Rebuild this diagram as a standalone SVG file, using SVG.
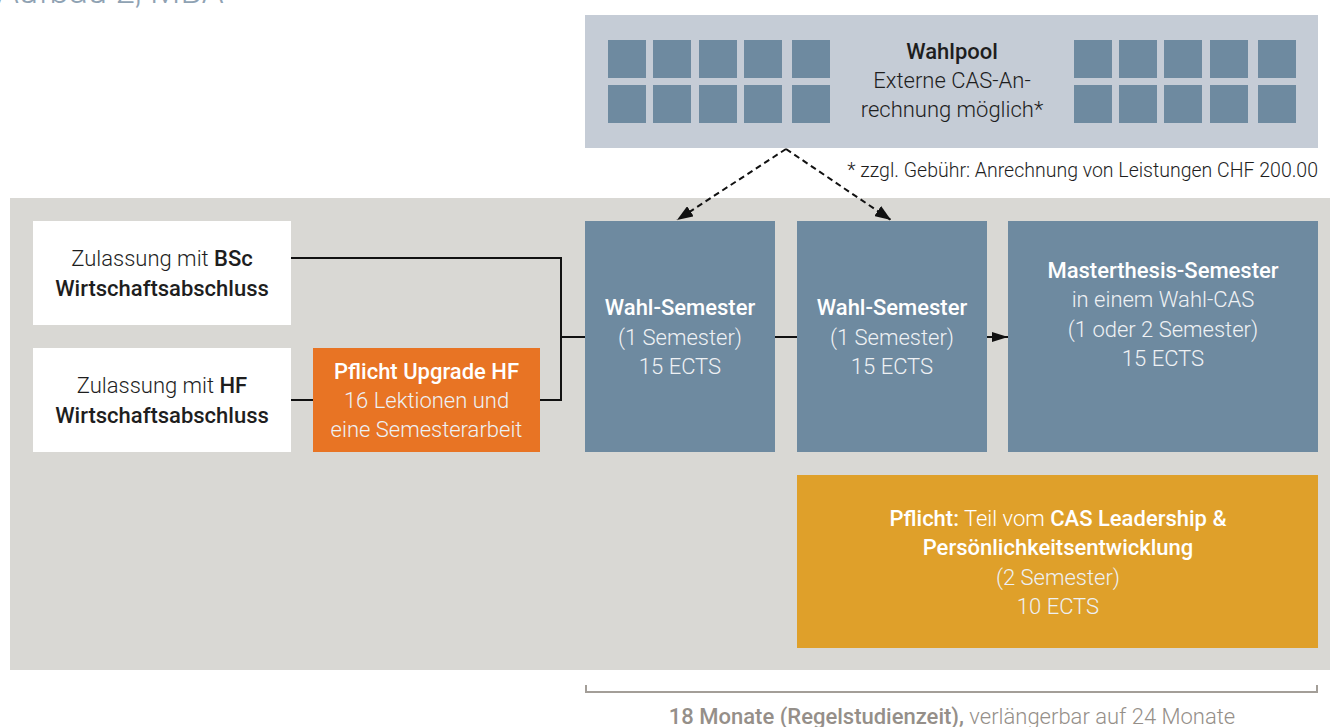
<svg xmlns="http://www.w3.org/2000/svg" width="1330" height="727" viewBox="0 0 1330 727">
<defs>
<style>
text{font-family:Roboto,"Liberation Sans",sans-serif;font-size:22px;text-anchor:middle}
.l{font-weight:300}
.b{font-weight:500}
.dk{fill:#1e1e1e}
.wh{fill:#ffffff}
.lt{fill:#eef1f4}
.sq{fill:#6e8aa0}
.blue{fill:#6e8aa0}
.ln{fill:none;stroke:#111;stroke-width:2}
.dash{fill:none;stroke:#111;stroke-width:2;stroke-dasharray:6 4}
</style>
<marker id="ah" viewBox="0 0 16 10" refX="16" refY="5" markerWidth="16" markerHeight="10" markerUnits="userSpaceOnUse" orient="auto">
<path d="M0,0 L16,5 L0,10 z" fill="#111"/>
</marker>
<marker id="ahd" viewBox="0 0 16 12" refX="16" refY="6" markerWidth="16" markerHeight="12" markerUnits="userSpaceOnUse" orient="auto">
<path d="M0,0 L16,6 L0,12 z" fill="#111"/>
</marker>
</defs>
<rect width="1330" height="727" fill="#ffffff"/>
<text x="-3" y="3" style="font-size:35px;text-anchor:start;fill:#8fa2b3" class="l">Aufbau 2, MBA</text>

<rect x="10" y="198" width="1320" height="472" fill="#d9d8d4"/>

<g id="wahlpool">
<rect x="585" y="15" width="733" height="133" fill="#c5ccd6"/>
<rect class="sq" x="608" y="40" width="38" height="38"/><rect class="sq" x="653" y="40" width="38" height="38"/><rect class="sq" x="699" y="40" width="38" height="38"/><rect class="sq" x="744" y="40" width="38" height="38"/><rect class="sq" x="792" y="40" width="38" height="38"/>
<rect class="sq" x="608" y="85" width="38" height="38"/><rect class="sq" x="653" y="85" width="38" height="38"/><rect class="sq" x="699" y="85" width="38" height="38"/><rect class="sq" x="744" y="85" width="38" height="38"/><rect class="sq" x="792" y="85" width="38" height="38"/>
<rect class="sq" x="1074" y="40" width="38" height="38"/><rect class="sq" x="1119" y="40" width="38" height="38"/><rect class="sq" x="1164" y="40" width="38" height="38"/><rect class="sq" x="1210" y="40" width="38" height="38"/><rect class="sq" x="1258" y="40" width="38" height="38"/>
<rect class="sq" x="1074" y="85" width="38" height="38"/><rect class="sq" x="1119" y="85" width="38" height="38"/><rect class="sq" x="1164" y="85" width="38" height="38"/><rect class="sq" x="1210" y="85" width="38" height="38"/><rect class="sq" x="1258" y="85" width="38" height="38"/>
<text x="952" y="59" class="b dk">Wahlpool</text>
<text x="952" y="88" class="l dk">Externe CAS-An-</text>
<text x="952" y="117" class="l dk">rechnung möglich*</text>
</g>
<text x="1318" y="177" class="l dk" style="font-size:19.5px;text-anchor:end">* zzgl. Gebühr: Anrechnung von Leistungen CHF 200.00</text>

<g id="bsc">
<rect x="33" y="221" width="258" height="104" fill="#ffffff"/>
<text x="162" y="266" class="dk"><tspan class="l">Zulassung mit </tspan><tspan class="b">BSc</tspan></text>
<text x="162" y="296" class="b dk">Wirtschaftsabschluss</text>
</g>
<g id="hf">
<rect x="33" y="348" width="258" height="104" fill="#ffffff"/>
<text x="162" y="393" class="dk"><tspan class="l">Zulassung mit </tspan><tspan class="b">HF</tspan></text>
<text x="162" y="423" class="b dk">Wirtschaftsabschluss</text>
</g>
<g id="upgrade">
<rect x="313" y="348" width="227" height="104" fill="#e87424"/>
<text x="426.5" y="379" class="b wh">Pflicht Upgrade HF</text>
<text x="426.5" y="408" class="l lt">16 Lektionen und</text>
<text x="426.5" y="437" class="l lt">eine Semesterarbeit</text>
</g>
<g id="wahl1">
<rect x="585" y="221" width="190" height="231" class="blue"/>
<text x="680" y="315" class="b wh">Wahl-Semester</text>
<text x="680" y="345" class="l lt">(1 Semester)</text>
<text x="680" y="374" class="l lt">15 ECTS</text>
</g>
<g id="wahl2">
<rect x="797" y="221" width="190" height="231" class="blue"/>
<text x="892" y="315" class="b wh">Wahl-Semester</text>
<text x="892" y="345" class="l lt">(1 Semester)</text>
<text x="892" y="374" class="l lt">15 ECTS</text>
</g>
<g id="master">
<rect x="1008" y="221" width="310" height="231" class="blue"/>
<text x="1163" y="278" class="b wh">Masterthesis-Semester</text>
<text x="1163" y="307" class="l lt">in einem Wahl-CAS</text>
<text x="1163" y="337" class="l lt">(1 oder 2 Semester)</text>
<text x="1163" y="366" class="l lt">15 ECTS</text>
</g>
<g id="leadership">
<rect x="797" y="475" width="521" height="173" fill="#dfa02a"/>
<text x="1058" y="526" class="wh"><tspan class="b">Pflicht:</tspan><tspan class="l"> Teil vom </tspan><tspan class="b">CAS Leadership &amp;</tspan></text>
<text x="1058" y="555" class="b wh">Persönlichkeitsentwicklung</text>
<text x="1058" y="585" class="l lt">(2 Semester)</text>
<text x="1058" y="614" class="l lt">10 ECTS</text>
</g>

<g id="connectors">
<polyline class="ln" points="291,258 561,258 561,400 540,400"/>
<line class="ln" x1="291" y1="400" x2="313" y2="400"/>
<line class="ln" x1="561" y1="337" x2="585" y2="337"/>
<line class="ln" x1="775" y1="337" x2="797" y2="337"/>
<line class="ln" x1="987" y1="337" x2="1008" y2="337" marker-end="url(#ah)"/>
<line class="dash" x1="786" y1="149" x2="677" y2="220" marker-end="url(#ahd)"/>
<line class="dash" x1="786" y1="149" x2="891" y2="220" marker-end="url(#ahd)"/>
</g>

<g id="duration">
<polyline points="586,685 586,692 1317,692 1317,685" fill="none" stroke="#a39e98" stroke-width="2"/>
<text x="952" y="724" style="fill:#958f89"><tspan class="b">18 Monate (Regelstudienzeit),</tspan><tspan class="l"> verlängerbar auf 24 Monate</tspan></text>
</g>
</svg>
